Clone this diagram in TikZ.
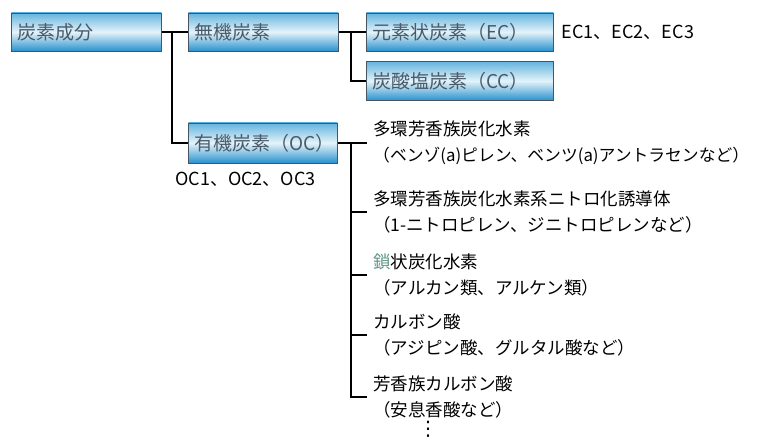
\documentclass[tikz,border=0pt]{standalone}
\usepackage{fontspec}
\newfontfamily\cjk{Noto Sans CJK JP}
\newfontfamily\symfont{DejaVu Sans}
\usepackage{xcolor}
\definecolor{boxtop}{RGB}{100,180,222}
\definecolor{boxmid}{RGB}{228,243,250}
\definecolor{boxbot}{RGB}{40,145,205}
\definecolor{boxline}{RGB}{70,85,95}
\definecolor{boxtext}{RGB}{75,90,105}
\definecolor{greentext}{RGB}{95,150,135}
\usetikzlibrary{positioning}

\begin{document}
\begin{tikzpicture}[
  x=1pt, y=1pt,
  catbox/.style={draw=boxline, line width=0.6pt, top color=boxtop, bottom color=boxbot, middle color=boxmid, anchor=west, minimum height=38pt, inner xsep=6pt, text width=#1, align=left, text=boxtext, font=\cjk\fontsize{19}{22}\selectfont},
  itemtext/.style={anchor=west, align=left, inner xsep=6pt, inner ysep=0pt, font=\cjk\fontsize{17.5}{26.5}\selectfont},
  listtext/.style={inner sep=0pt, font=\cjk\fontsize{18}{22}\selectfont},
  branch/.style={line width=2.6pt}
]
\useasboundingbox (0,0) rectangle (759,-443);

% category boxes
\node[catbox=138pt] (carbon) at (11,-32) {炭素成分};
\node[catbox=138pt] (inorg) at (188,-32) {無機炭素};
\node[catbox=175pt] (ec) at (366,-32) {元素状炭素（EC）};
\node[catbox=175pt, minimum height=39pt] (cc) at (366,-81) {炭酸塩炭素（CC）};
\node[catbox=137pt, minimum height=40pt] (org) at (188,-143) {有機炭素（OC）};

\node[listtext, right=8pt of ec] (eclist) {EC1、EC2、EC3};
\node[listtext, below=9pt of org.south west, anchor=north west, xshift=-13pt] (oclist) {OC1、OC2、OC3};

% organic compounds
\node[itemtext] (pah) at (367,-143) {多環芳香族炭化水素\\{\fontsize{16.8}{26.5}\selectfont（ベンゾ(a)ピレン、ベンツ(a)アントラセンなど）}};
\node[itemtext] (nitro) at (367,-212) {多環芳香族炭化水素系ニトロ化誘導体\\（1-ニトロピレン、ジニトロピレンなど）};
\node[itemtext] (chain) at (367,-275) {{\color{greentext}鎖}状炭化水素\\（アルカン類、アルケン類）};
\node[itemtext] (carb) at (367,-335) {カルボン酸\\（アジピン酸、グルタル酸など）};
\node[itemtext] (arom) at (367,-397) {芳香族カルボン酸\\（安息香酸など）};
\node[inner sep=0pt, font=\symfont\fontsize{20}{20}\selectfont] (more) at (428,-429) {⋮};

\coordinate (j1) at (172,-32);
\coordinate (j2) at (351,-32);
\coordinate (j3) at (351,-143);

\draw[branch] (carbon) -- (inorg);
\draw[branch] (j1) |- (org.west);
\draw[branch] (inorg) -- (ec);
\draw[branch] (j2) |- (cc.west);
\draw[branch] (org.east) -- (pah.west);
\foreach \n in {nitro,chain,carb,arom}
  \draw[branch] (j3) |- (\n.west);
\end{tikzpicture}
\end{document}
